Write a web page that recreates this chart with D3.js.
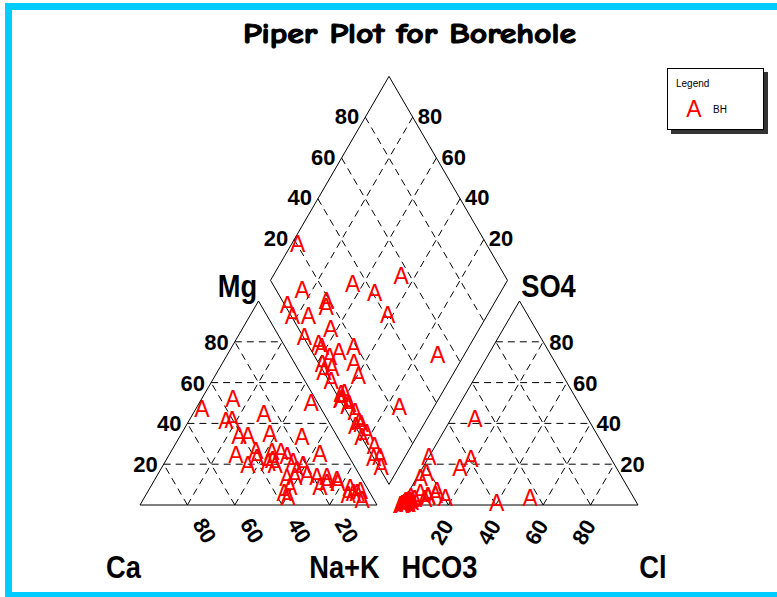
<!DOCTYPE html>
<html><head><meta charset="utf-8">
<script src="https://cdn.jsdelivr.net/npm/d3@7"></script>
<style>body{margin:0;background:#fff;} svg{display:block}</style>
</head><body>
<svg id="c" width="777" height="597"></svg>
<script>
// ---------- DATA ----------
const chartTitle = "Piper Plot for Borehole";
const gridTicks = [20, 40, 60, 80];
const legendTitle = "Legend";
const seriesName = "BH";
const markerSymbol = "A";
const cationNames = ["Ca", "Mg", "Na+K"];
const anionNames = ["HCO3", "SO4", "Cl"];
// cation percentages (meq %)
const ca  = [50.2,34.7,43.0,40.2,41.2,47.1,37.4,25.3,37.7,44.7,27.6,39.2,31.2,35.7,33.0,27.4,2.7,33.2,26.0,14.9,24.9,31.4,25.2,36.3,27.8,32.3,21.4,35.6,22.2,11.4,18.5,19.7,14.3,15.8,10.8,11.0,7.2,9.7,7.0,5.5,3.5,5.1];
const mg  = [47.3,52.1,41.4,41.9,34.1,24.8,34.1,44.8,26.8,19.5,35.1,22.9,26.3,20.5,22.0,26.3,50.2,19.5,23.9,33.6,21.0,13.2,17.1,5.8,13.6,8.8,19.5,3.9,14.6,25.3,13.6,8.8,13.6,10.7,12.2,11.0,8.3,4.9,6.0,5.8,7.0,2.4];
const naK = [2.5,13.2,15.6,17.9,24.7,28.1,28.5,29.9,35.5,35.8,37.3,37.9,42.5,43.8,45.0,46.3,47.1,47.3,50.1,51.5,54.1,55.4,57.7,57.9,58.6,58.9,59.1,60.5,63.2,63.3,67.9,71.5,72.1,73.5,77.0,78.0,84.5,85.4,87.0,88.7,89.5,92.5];
// anion percentages (meq %)
const hco3 = [79.5,99.0,88.8,99.5,92.7,99.5,81.3,83.0,66.1,95.1,86.5,94.8,98.6,93.8,100,88.5,59.2,95.4,98.9,81.3,43.8,85.1,98.0,59.1,96.3,99.7,99.0,86.4,97.1,98.0,96.5,99.7,97.2,96.9,99.8,96.9,96.7,76.5,100,47.6,97.2,99.1];
const so4  = [3.5,0.5,6.0,0.3,3.0,0.2,7.0,5.0,18.0,2.0,4.0,1.5,0.8,4.0,0,3.0,22.5,2.5,0.6,16.0,3.4,13.4,1.0,1.0,1.7,0.2,0.4,4.5,1.0,0.9,2.0,0.1,0.8,1.2,0.1,2.1,0.5,23.5,0,42.4,1.4,0.4];
const cl   = [17.0,0.5,5.2,0.2,4.3,0.3,11.7,12.0,15.9,2.9,9.5,3.7,0.6,2.2,0,8.5,18.3,2.1,0.5,2.7,52.8,1.5,1.0,39.9,2.0,0.1,0.6,9.1,1.9,1.1,1.5,0.2,2.0,1.9,0.1,1.0,2.8,0.0,0,10.0,1.4,0.5];

// ---------- LAYOUT ----------
const W = 777, H = 597;
const side = 237, triH = 204, baseY = 505, gap = 24;
const catX0 = 140, anX0 = catX0 + side + gap;
const svg = d3.select("#c");
svg.append("rect").attr("width", W).attr("height", H).attr("fill", "#fff");
svg.append("rect").attr("x", 8.5).attr("y", 6.5).attr("width", 830).attr("height", 589)
  .attr("fill", "none").attr("stroke", "#00CCFF").attr("stroke-width", 7);

const catX = d3.scaleLinear().domain([0, 100]).range([catX0, catX0 + side]);
const anX  = d3.scaleLinear().domain([0, 100]).range([anX0, anX0 + side]);
const yS   = d3.scaleLinear().domain([0, 100]).range([baseY, baseY - triH]);
const bx = catX0 + side + gap / 2;
const by = baseY - (gap / 2) * (triH / (side / 2));
const dX = d3.scaleLinear().domain([-100, 100]).range([bx - side / 2, bx + side / 2]);
const dY = d3.scaleLinear().domain([0, 200]).range([by - 2 * triH, by]);

const catPt = (m, n) => [catX(n + m / 2), yS(m)];
const anPt  = (s, c) => [anX(c + s / 2), yS(s)];
const dPt   = (n, h) => [dX(n - h), dY(n + h)];

const line = d3.line();
const gGrid = svg.append("g").attr("fill", "none").attr("stroke", "#000")
  .attr("stroke-width", 1).attr("stroke-dasharray", "7,5");
const gOut = svg.append("g").attr("fill", "none").attr("stroke", "#000").attr("stroke-width", 1);

function seg(a, b) { gGrid.append("path").attr("d", line([a, b])); }

gridTicks.forEach(k => {
  seg(catPt(k, 0), catPt(k, 100 - k));
  seg(catPt(0, k), catPt(100 - k, k));
  seg(catPt(0, 100 - k), catPt(100 - k, 0));
  seg(anPt(k, 0), anPt(k, 100 - k));
  seg(anPt(0, k), anPt(100 - k, k));
  seg(anPt(0, 100 - k), anPt(100 - k, 0));
  seg(dPt(k, 0), dPt(k, 100));
  seg(dPt(0, k), dPt(100, k));
});

gOut.append("path").attr("d", line([catPt(0, 0), catPt(0, 100), catPt(100, 0)]) + "Z");
gOut.append("path").attr("d", line([anPt(0, 0), anPt(0, 100), anPt(100, 0)]) + "Z");
gOut.append("path").attr("d", line([dPt(100, 100), dPt(0, 100), dPt(0, 0), dPt(100, 0)]) + "Z");

// ---------- LABELS ----------
const FONT = "'Liberation Sans', Arial, Helvetica, sans-serif";
const gLab = svg.append("g").attr("font-family", FONT).attr("font-weight", "bold")
  .attr("font-size", 22).attr("fill", "#000");

gridTicks.forEach(v => {
  let p = catPt(v, 0);
  gLab.append("text").attr("x", p[0] - 6).attr("y", p[1]).attr("dy", "0.36em")
    .attr("text-anchor", "end").text(v);
  p = anPt(v, 100 - v);
  gLab.append("text").attr("x", p[0] + 6).attr("y", p[1]).attr("dy", "0.36em")
    .attr("text-anchor", "start").text(v);
  p = dPt(0, 100 - v);
  gLab.append("text").attr("x", p[0] - 6).attr("y", p[1]).attr("dy", "0.3em")
    .attr("text-anchor", "end").text(v);
  p = dPt(100 - v, 0);
  gLab.append("text").attr("x", p[0] + 5).attr("y", p[1]).attr("dy", "0.3em")
    .attr("text-anchor", "start").text(v);
  p = catPt(0, 100 - v);
  gLab.append("text").attr("transform", `translate(${p[0] + 17.5},${p[1] + 25.5}) rotate(60)`)
    .attr("dy", "0.36em").attr("text-anchor", "middle").text(v);
  p = anPt(0, v);
  gLab.append("text").attr("transform", `translate(${p[0] - 7},${p[1] + 27}) rotate(-60)`)
    .attr("dy", "0.36em").attr("text-anchor", "middle").text(v);
});

const axisNames = [
  [cationNames[0], catPt(0, 0)[0] - 16.5, 578],
  [cationNames[2], catPt(0, 100)[0] - 32.5, 578],
  [anionNames[0], anPt(0, 0)[0] + 38.5, 578],
  [anionNames[2], anPt(0, 100)[0] + 15, 578],
  [cationNames[1], catPt(100, 0)[0] - 21, 297],
  [anionNames[1], anPt(100, 0)[0] + 29, 297]
];
axisNames.forEach(([t, x, y]) => {
  gLab.append("text").attr("transform", `translate(${x},${y}) scale(0.88,1)`)
    .attr("font-size", 31).attr("text-anchor", "middle").text(t);
});

// title
svg.append("text").attr("x", 409.5).attr("y", 43).attr("text-anchor", "middle")
  .attr("font-family", "'Comic Sans MS','Comic Neue','DejaVu Sans',sans-serif")
  .attr("font-weight", "bold").attr("font-size", 28)
  .attr("stroke", "#000").attr("stroke-width", 1.1).attr("stroke-linejoin", "round")
  .attr("textLength", 333).attr("lengthAdjust", "spacingAndGlyphs")
  .text(chartTitle);

// ---------- POINTS ----------
const gPts = svg.append("g").attr("font-family", FONT).attr("font-size", 23)
  .attr("fill", "#FF0000").attr("text-anchor", "middle");
const idx = d3.range(ca.length);
function drawPts(pts) {
  gPts.append("g").selectAll("text").data(pts).join("text")
    .attr("x", d => d[0]).attr("y", d => d[1] + 8.2).text(markerSymbol);
}
drawPts(idx.map(i => catPt(mg[i], naK[i])));
drawPts(idx.map(i => anPt(so4[i], cl[i])));
drawPts(idx.map(i => dPt(naK[i], hco3[i])));

// ---------- LEGEND ----------
const lg = svg.append("g");
lg.append("rect").attr("x", 671).attr("y", 72).attr("width", 97).attr("height", 62).attr("fill", "#333");
lg.append("rect").attr("x", 667.5).attr("y", 68.5).attr("width", 96).attr("height", 61)
  .attr("fill", "#fff").attr("stroke", "#000").attr("stroke-width", 1);
lg.append("text").attr("x", 676).attr("y", 87).attr("font-family", FONT).attr("font-size", 10).text(legendTitle);
lg.append("text").attr("x", 694).attr("y", 116.7).attr("font-family", FONT).attr("font-size", 23)
  .attr("fill", "#FF0000").attr("text-anchor", "middle").text(markerSymbol);
lg.append("text").attr("x", 713).attr("y", 112.7).attr("font-family", FONT).attr("font-size", 10).text(seriesName);
</script>
</body></html>
